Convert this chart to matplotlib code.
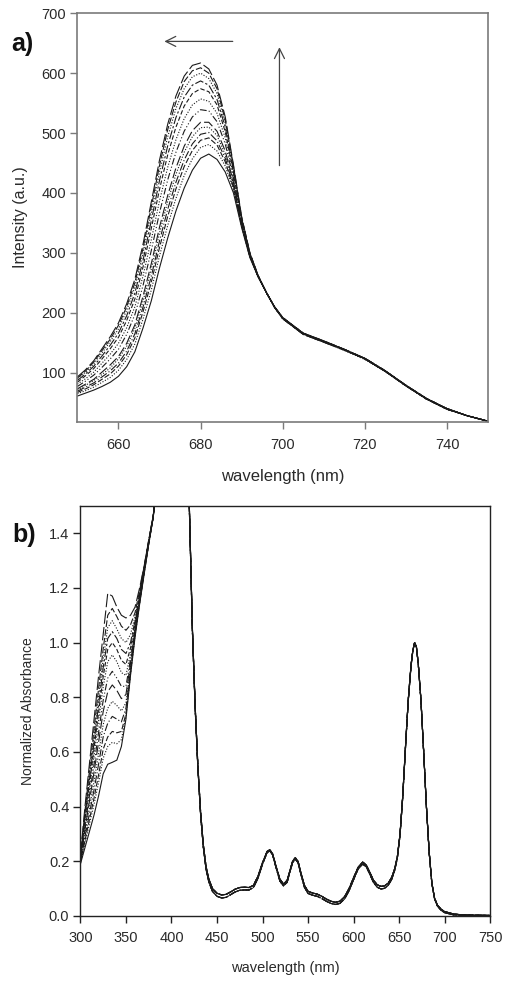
import matplotlib
matplotlib.use("Agg")
import matplotlib.pyplot as plt

plt.rcParams['font.family'] = ['Liberation Sans', 'DejaVu Sans']

# ---- panel a: fluorescence emission ----
em_wl = [650, 652, 654, 656, 658, 660, 662, 664, 666, 668, 670, 672, 674, 676, 678,
         680, 682, 684, 686, 688, 690, 692, 694, 696, 698, 700,
         705, 710, 715, 720, 725, 730, 735, 740, 745, 750]

em_curves = [
    [61, 66, 71, 77, 84, 94, 110, 135, 175, 220, 275, 325, 370, 408, 438, 458, 465, 456, 435, 400, 342, 292, 260, 234, 210, 192, 166, 153, 139, 124, 103, 79, 57, 40, 28, 19],
    [65, 70, 76, 84, 92, 104, 122, 148, 190, 238, 295, 346, 391, 429, 457, 476, 481, 470, 445, 405, 344, 293, 260, 234, 210, 192, 166, 153, 139, 124, 103, 79, 57, 40, 28, 19],
    [67, 73, 80, 89, 98, 111, 130, 158, 202, 251, 309, 361, 407, 444, 471, 488, 492, 480, 452, 409, 345, 294, 260, 234, 210, 192, 166, 153, 139, 124, 103, 79, 57, 40, 28, 19],
    [69, 76, 83, 93, 103, 116, 136, 165, 210, 261, 320, 373, 418, 455, 482, 498, 501, 487, 458, 412, 347, 294, 261, 234, 210, 192, 165, 152, 139, 124, 103, 79, 57, 40, 28, 19],
    [71, 79, 87, 97, 108, 123, 144, 174, 220, 273, 333, 386, 431, 468, 494, 509, 510, 496, 464, 415, 348, 295, 261, 234, 210, 191, 165, 152, 138, 124, 103, 78, 57, 40, 28, 19],
    [73, 81, 89, 101, 113, 127, 149, 180, 228, 282, 343, 396, 442, 478, 504, 518, 518, 503, 470, 418, 349, 295, 261, 234, 210, 191, 166, 153, 139, 123, 102, 79, 56, 40, 28, 19],
    [77, 86, 96, 109, 123, 139, 164, 197, 246, 304, 367, 422, 468, 503, 527, 539, 537, 519, 482, 424, 351, 296, 261, 234, 210, 191, 165, 152, 138, 124, 103, 78, 57, 39, 28, 19],
    [81, 90, 101, 116, 131, 149, 175, 210, 262, 322, 387, 443, 489, 524, 547, 557, 553, 533, 492, 429, 353, 297, 261, 234, 209, 191, 164, 152, 138, 123, 102, 78, 56, 40, 28, 19],
    [84, 95, 107, 123, 140, 159, 187, 223, 277, 341, 406, 464, 510, 545, 566, 574, 569, 547, 502, 434, 355, 298, 262, 234, 209, 191, 165, 151, 138, 123, 102, 78, 56, 39, 28, 19],
    [87, 98, 111, 128, 146, 166, 195, 233, 288, 354, 421, 479, 526, 560, 580, 587, 580, 556, 510, 438, 357, 299, 262, 234, 209, 190, 164, 151, 138, 123, 102, 78, 56, 39, 28, 19],
    [90, 101, 115, 133, 152, 173, 204, 243, 300, 367, 435, 494, 541, 574, 594, 600, 591, 566, 517, 442, 358, 299, 262, 234, 209, 190, 164, 151, 137, 122, 102, 78, 56, 39, 28, 19],
    [91, 103, 118, 137, 156, 179, 210, 250, 308, 377, 446, 506, 552, 586, 604, 609, 600, 574, 522, 445, 359, 300, 262, 234, 209, 190, 164, 151, 138, 123, 102, 78, 56, 39, 28, 19],
    [93, 105, 120, 140, 160, 183, 215, 256, 315, 385, 455, 515, 562, 595, 613, 617, 607, 580, 527, 447, 360, 300, 262, 234, 209, 190, 164, 151, 138, 123, 102, 78, 56, 39, 28, 19],
]

# ---- panel b: absorbance ----
uv_wl_left = [300, 305, 310, 315, 320, 325, 330, 335, 340, 345, 350, 355, 360, 365, 370, 375, 380]
uv_left = [
    [0.19, 0.25, 0.31, 0.37, 0.44, 0.52, 0.555, 0.562, 0.57, 0.62, 0.72, 0.88, 1.02, 1.14, 1.25, 1.36, 1.46],
    [0.193, 0.267, 0.338, 0.409, 0.489, 0.577, 0.62, 0.635, 0.63, 0.645, 0.73, 0.885, 1.025, 1.145, 1.255, 1.36, 1.46],
    [0.195, 0.276, 0.354, 0.432, 0.517, 0.61, 0.655, 0.675, 0.67, 0.675, 0.74, 0.89, 1.03, 1.145, 1.255, 1.36, 1.46],
    [0.198, 0.29, 0.376, 0.462, 0.556, 0.655, 0.705, 0.73, 0.72, 0.71, 0.76, 0.9, 1.035, 1.15, 1.26, 1.365, 1.46],
    [0.201, 0.303, 0.398, 0.493, 0.595, 0.70, 0.76, 0.785, 0.77, 0.75, 0.78, 0.91, 1.04, 1.15, 1.26, 1.365, 1.46],
    [0.203, 0.317, 0.422, 0.527, 0.637, 0.748, 0.82, 0.845, 0.825, 0.795, 0.81, 0.925, 1.045, 1.155, 1.26, 1.365, 1.46],
    [0.206, 0.329, 0.442, 0.555, 0.672, 0.789, 0.87, 0.895, 0.87, 0.84, 0.84, 0.94, 1.05, 1.16, 1.265, 1.365, 1.46],
    [0.209, 0.344, 0.466, 0.588, 0.715, 0.838, 0.93, 0.955, 0.93, 0.89, 0.88, 0.96, 1.06, 1.165, 1.265, 1.37, 1.465],
    [0.211, 0.354, 0.484, 0.614, 0.746, 0.875, 0.975, 1.0, 0.975, 0.935, 0.92, 0.98, 1.07, 1.17, 1.27, 1.37, 1.465],
    [0.213, 0.364, 0.50, 0.636, 0.774, 0.908, 1.015, 1.04, 1.015, 0.975, 0.96, 1.0, 1.08, 1.175, 1.27, 1.37, 1.465],
    [0.215, 0.374, 0.516, 0.658, 0.803, 0.94, 1.055, 1.08, 1.05, 1.015, 1.0, 1.03, 1.095, 1.18, 1.275, 1.37, 1.465],
    [0.217, 0.384, 0.534, 0.684, 0.834, 0.977, 1.10, 1.125, 1.095, 1.06, 1.045, 1.065, 1.11, 1.19, 1.28, 1.375, 1.465],
    [0.22, 0.40, 0.56, 0.72, 0.88, 1.03, 1.18, 1.17, 1.13, 1.10, 1.09, 1.10, 1.13, 1.20, 1.28, 1.375, 1.465],
]

uv_wl_right = [385, 390, 400, 410, 415, 420, 423, 426, 429, 432, 435, 438, 441, 445, 450, 455,
               460, 465, 470, 475, 480, 485, 490, 495, 500, 505, 508, 511, 515, 519, 523, 527,
               530, 533, 536, 539, 542, 546, 550, 555, 560, 565, 570, 575, 580, 585, 590, 595,
               600, 605, 610, 614, 618, 622, 626, 630, 634, 638, 642, 645, 648, 651, 654, 657,
               660, 663, 665, 667, 669, 671, 674, 677, 680, 683, 686, 689, 692, 696, 700, 710,
               720, 735, 750]
uv_right_hi = [1.62, 1.8, 2.2, 2.4, 2.1, 1.45, 1.05, 0.77, 0.55, 0.38, 0.26, 0.18, 0.135, 0.10, 0.083, 0.077,
               0.079, 0.088, 0.098, 0.104, 0.105, 0.104, 0.112, 0.145, 0.195, 0.236, 0.242, 0.228, 0.18, 0.135, 0.117, 0.13,
               0.165, 0.20, 0.213, 0.20, 0.16, 0.112, 0.09, 0.084, 0.08, 0.072, 0.062, 0.054, 0.05, 0.054, 0.07, 0.10,
               0.14, 0.178, 0.197, 0.186, 0.158, 0.13, 0.114, 0.108, 0.11, 0.12, 0.142, 0.172, 0.215, 0.30, 0.44, 0.62,
               0.79, 0.915, 0.97, 1.0, 0.985, 0.925, 0.79, 0.60, 0.40, 0.235, 0.12, 0.065, 0.04, 0.025, 0.016, 0.007,
               0.004, 0.003, 0.002]
uv_right_lo = [1.62, 1.8, 2.2, 2.4, 2.1, 1.44, 1.04, 0.76, 0.54, 0.37, 0.25, 0.17, 0.125, 0.09, 0.072, 0.066,
               0.068, 0.078, 0.088, 0.094, 0.095, 0.095, 0.104, 0.138, 0.19, 0.232, 0.238, 0.224, 0.175, 0.128, 0.11, 0.123,
               0.16, 0.195, 0.208, 0.195, 0.154, 0.105, 0.082, 0.076, 0.072, 0.064, 0.054, 0.046, 0.042, 0.046, 0.062, 0.092,
               0.133, 0.172, 0.19, 0.18, 0.151, 0.122, 0.105, 0.099, 0.101, 0.112, 0.135, 0.165, 0.21, 0.295, 0.435, 0.615,
               0.785, 0.91, 0.968, 0.998, 0.983, 0.922, 0.787, 0.597, 0.398, 0.232, 0.117, 0.062, 0.037, 0.021, 0.012, 0.004,
               0.002, 0.001, 0.001]

# dash patterns, solid = lowest curve, long dash = highest
styles = ['-', (0, (1, 1.5)), (0, (5, 2)), (0, (7, 2, 1, 2)), (0, (1, 1.5)), (0, (9, 3)),
          (0, (6, 2, 1, 2, 1, 2)), (0, (1, 1.5)), (0, (4, 2)), (0, (8, 2, 2, 2)),
          (0, (1, 1.5)), (0, (6, 2)), (0, (12, 3))]

fig = plt.figure(figsize=(5.09, 9.81), dpi=100)
grey = '#7a7a7a'
txt = '#2a2a2a'

# panel a
ax1 = fig.add_axes([0.152, 0.570, 0.807, 0.4165])
for i, y in enumerate(em_curves):
    ax1.plot(em_wl, y, color='#1a1a1a', lw=0.8, ls=styles[i])
ax1.set_xlim(650, 750)
ax1.set_ylim(18, 700)
ax1.set_xticks([660, 680, 700, 720, 740])
ax1.set_yticks([100, 200, 300, 400, 500, 600, 700])
for s in ax1.spines.values():
    s.set_color(grey)
    s.set_linewidth(1.2)
ax1.tick_params(direction='out', length=5, width=1, color=grey, labelsize=10.5,
                labelcolor=txt, pad=3)
ax1.tick_params(axis='x', pad=7)
ax1.set_xlabel('wavelength (nm)', fontsize=12, color=txt, labelpad=12)
ax1.set_ylabel('Intensity (a.u.)', fontsize=11.5, color=txt, labelpad=10)
ax1.annotate('', xy=(670.5, 653), xytext=(688.5, 653),
             arrowprops=dict(arrowstyle='->', color='#444444', lw=0.9, mutation_scale=18))
ax1.annotate('', xy=(699.2, 648), xytext=(699.2, 441),
             arrowprops=dict(arrowstyle='->', color='#444444', lw=0.9, mutation_scale=18))
fig.text(0.022, 0.955, 'a)', fontsize=18, fontweight='bold', color='#111111', va='center')

# panel b
ax2 = fig.add_axes([0.158, 0.0663, 0.805, 0.418])
for i, y in enumerate(uv_left):
    right = uv_right_hi if i % 2 == 0 else uv_right_lo
    ax2.plot(uv_wl_left + uv_wl_right, y + right, color='#1a1a1a', lw=0.8, ls=styles[i])
ax2.set_xlim(300, 750)
ax2.set_ylim(0, 1.5)
ax2.set_xticks(range(300, 751, 50))
ax2.set_yticks([0.0, 0.2, 0.4, 0.6, 0.8, 1.0, 1.2, 1.4])
ax2.set_yticklabels(['0.0', '0.2', '0.4', '0.6', '0.8', '1.0', '1.2', '1.4'])
for s in ax2.spines.values():
    s.set_color('#222222')
    s.set_linewidth(1.0)
ax2.tick_params(direction='out', length=5, width=1, color='#222222', labelsize=10.5,
                labelcolor=txt, pad=3)
ax2.tick_params(axis='x', pad=6)
ax2.set_xlabel('wavelength (nm)', fontsize=10.5, color=txt, labelpad=11)
ax2.set_ylabel('Normalized Absorbance', fontsize=10, color=txt, labelpad=10)
fig.text(0.024, 0.455, 'b)', fontsize=18, fontweight='bold', color='#111111', va='center')

fig.savefig('out.png', dpi=100)
